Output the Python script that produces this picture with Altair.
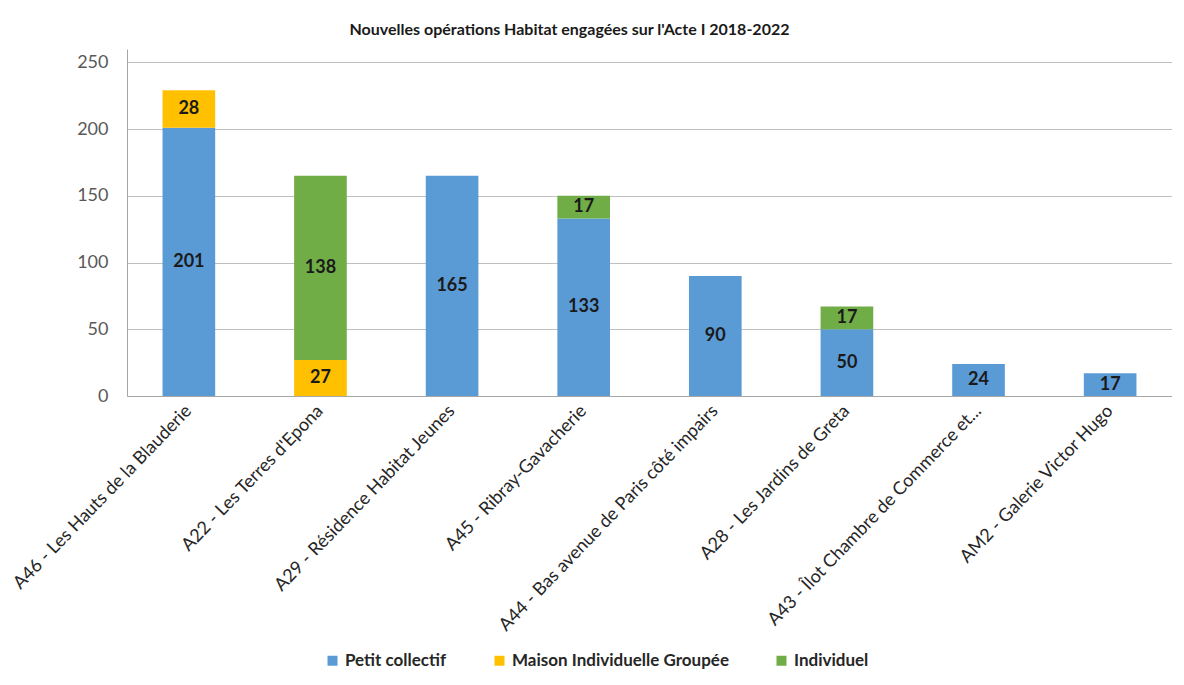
import altair as alt
import pandas as pd

categories = [
    "A46 - Les Hauts de la Blauderie",
    "A22 - Les Terres d'Epona",
    "A29 - Résidence Habitat Jeunes",
    "A45 - Ribray-Gavacherie",
    "A44 - Bas avenue de Paris côté impairs",
    "A28 - Les Jardins de Greta",
    "A43 - Îlot Chambre de Commerce et...",
    "AM2 - Galerie Victor Hugo",
]
series = ["Petit collectif", "Maison Individuelle Groupée", "Individuel"]
petit_collectif = [201, 0, 165, 133, 90, 50, 24, 17]
maison_groupee = [28, 27, 0, 0, 0, 0, 0, 0]
individuel = [0, 138, 0, 17, 0, 17, 0, 0]
colors = ["#5B9BD5", "#FFC000", "#70AD47"]
y_ticks = [0, 50, 100, 150, 200, 250]

rows = []
for si, (name, vals) in enumerate(zip(series, [petit_collectif, maison_groupee, individuel])):
    for c, v in zip(categories, vals):
        if v > 0:
            rows.append({"cat": c, "serie": name, "value": v, "ord": si})
df = pd.DataFrame(rows)

FONT = "Lato"

base = alt.Chart(df).transform_stack(
    stack="value", groupby=["cat"], as_=["y0", "y1"], sort=[alt.SortField("ord", order="ascending")]
).transform_calculate(mid="(datum.y0 + datum.y1) / 2")

x = alt.X("cat:N", sort=categories, title=None,
          scale=alt.Scale(paddingInner=0.6, paddingOuter=0.27),
          axis=alt.Axis(labelAngle=-46, labelFontSize=18, labelColor="#262626", labelFont=FONT,
                        ticks=False, domainColor="#a6a6a6", labelPadding=12, labelLimit=400))

bars = base.mark_bar().encode(
    x=x,
    y=alt.Y("y0:Q", scale=alt.Scale(domain=[0, 250]), title=None,
            axis=alt.Axis(values=y_ticks, labelFontSize=18, labelColor="#595959", labelFont=FONT,
                          ticks=False, domainColor="#a6a6a6", gridColor="#bfbfbf", labelPadding=19)),
    y2="y1:Q",
    color=alt.Color("serie:N", sort=series, scale=alt.Scale(domain=series, range=colors),
                    legend=alt.Legend(title=None, orient="none", direction="horizontal",
                                      legendX=197, legendY=603, symbolType="square", symbolSize=100,
                                      labelFontSize=17, labelFontWeight="bold", labelFont=FONT,
                                      labelColor="#262626", labelLimit=400,
                                      columnPadding=44, symbolStrokeWidth=0)),
)

labels = base.mark_text(fontSize=18, fontWeight="bold", color="#1a1a1a", font=FONT).encode(
    x=alt.X("cat:N", sort=categories),
    y="mid:Q",
    text="value:Q",
)

chart = (bars + labels).properties(
    width=1045, height=347,
    title=alt.TitleParams("Nouvelles opérations Habitat engagées sur l'Acte I 2018-2022",
                          fontSize=16, fontWeight="bold", font=FONT, color="#1a1a1a",
                          offset=11, dx=-80),
    padding={"left": 2, "top": 14, "right": 0, "bottom": 0},
).configure_view(strokeWidth=0)

chart.save("out.html", embed_options={"renderer": "svg", "actions": False})
